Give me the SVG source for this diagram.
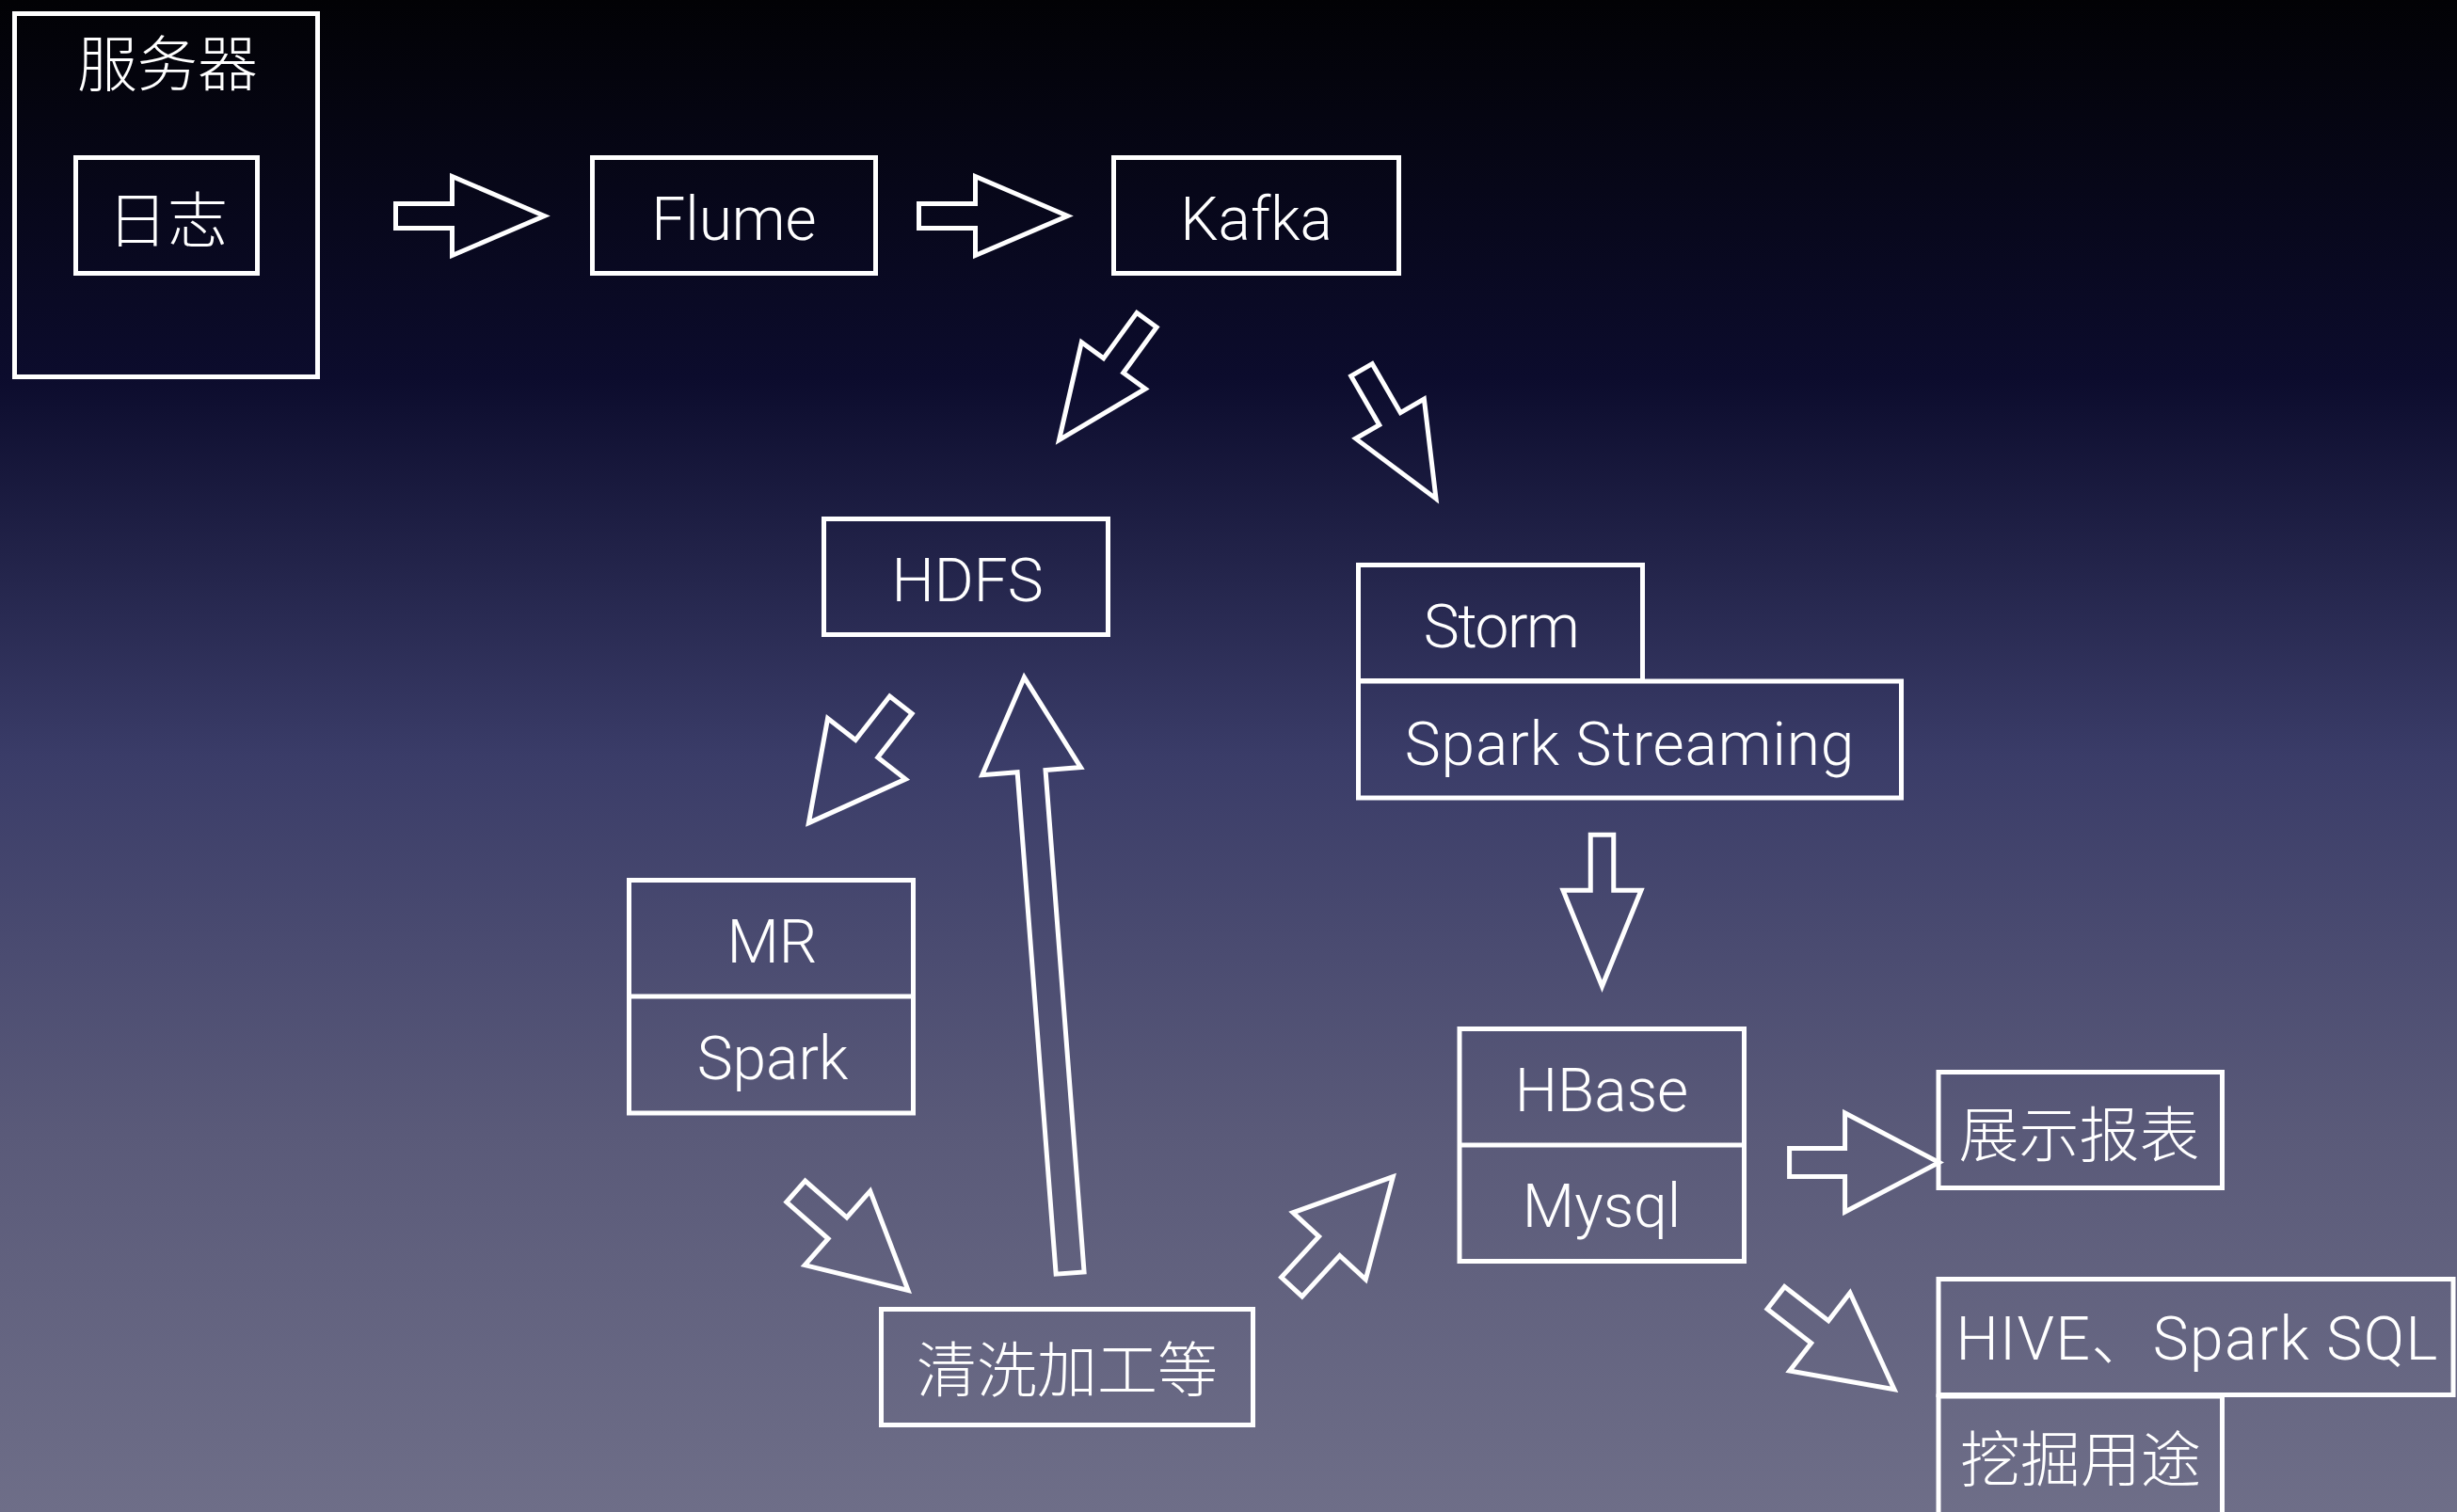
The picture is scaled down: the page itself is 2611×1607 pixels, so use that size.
<svg xmlns="http://www.w3.org/2000/svg" xmlns:xlink="http://www.w3.org/1999/xlink" width="2611" height="1607" viewBox="0 0 2611 1607">
<defs>
<linearGradient id="bg" x1="0" y1="0" x2="0" y2="1">
<stop offset="0" stop-color="#020205"/>
<stop offset="0.25" stop-color="#0c0c2d"/>
<stop offset="0.5" stop-color="#3a3c68"/>
<stop offset="0.75" stop-color="#5a5a79"/>
<stop offset="1" stop-color="#6e6e88"/>
</linearGradient>
<path id="arrA" d="M0,0 L-98,-42 V-13 H-158 V13 H-98 V42 Z"/>
<path id="arrB" d="M0,0 L-100,-52.5 V-15 H-159 V15 H-100 V52.5 Z"/>
<path id="arrC" d="M0,0 L-102,-41.5 V-12.25 H-161 V12.25 H-102 V41.5 Z"/>
<path id="arrD" d="M0,0 L-100,-52.5 V-15 H-635 V15 H-100 V52.5 Z"/>
</defs>
<style>
.box{fill:none;stroke:#fff;stroke-width:5}
.arr{fill:none;stroke:#fff;stroke-width:5;stroke-linejoin:miter;stroke-miterlimit:10}
.lat{font-family:Roboto,"Liberation Sans","Noto Sans CJK SC",sans-serif;font-weight:300;font-size:64px;fill:#fff;text-anchor:middle}
.cjk{font-family:"Noto Sans CJK SC",sans-serif;font-weight:300;font-size:64px;fill:#fff;text-anchor:middle}
</style>
<rect x="0" y="0" width="2611" height="1607" fill="url(#bg)"/>

<g id="server">
<rect class="box" x="15.5" y="14.5" width="322" height="386"/>
<text class="cjk" x="178" y="91">服务器</text>
</g>
<g id="log">
<rect class="box" x="80.5" y="167.5" width="193" height="123"/>
<text class="cjk" x="178" y="257">日志</text>
</g>
<g id="flume">
<rect class="box" x="629.5" y="167.5" width="301" height="123"/>
<text class="lat" x="780" y="255">Flume</text>
</g>
<g id="kafka">
<rect class="box" x="1183.5" y="167.5" width="303" height="123"/>
<text class="lat" x="1335" y="255">Kafka</text>
</g>
<g id="hdfs">
<rect class="box" x="875.5" y="551.5" width="302" height="123"/>
<text class="lat" x="1028" y="639">HDFS</text>
</g>
<g id="storm">
<rect class="box" x="1443.5" y="600.5" width="302" height="123"/>
<text class="lat" x="1595" y="688" letter-spacing="-1.5">Storm</text>
</g>
<g id="sparkstreaming">
<rect class="box" x="1443.5" y="724" width="577" height="124"/>
<text class="lat" x="1732" y="813" letter-spacing="0.9">Spark Streaming</text>
</g>
<g id="mrspark">
<rect class="box" x="668.5" y="935.5" width="302" height="247.5"/>
<line class="box" x1="668.5" y1="1059" x2="970.5" y2="1059"/>
<text class="lat" x="820.5" y="1022.5">MR</text>
<text class="lat" x="821" y="1146.5">Spark</text>
</g>
<g id="clean">
<rect class="box" x="936.5" y="1391.5" width="395" height="123"/>
<text class="cjk" x="1134" y="1479">清洗加工等</text>
</g>
<g id="hbasemysql">
<rect class="box" x="1551" y="1093.5" width="302.5" height="247"/>
<line class="box" x1="1551" y1="1217" x2="1853.5" y2="1217"/>
<text class="lat" x="1702" y="1180.5">HBase</text>
<text class="lat" x="1702" y="1304">Mysql</text>
</g>
<g id="report">
<rect class="box" x="2060" y="1139.5" width="301.5" height="123"/>
<text class="cjk" x="2209.5" y="1228.5">展示报表</text>
</g>
<g id="hive">
<rect class="box" x="2060" y="1359.5" width="547" height="123"/>
<text class="lat" x="2335" y="1444.7" letter-spacing="1.4">HIVE、Spark SQL</text>
</g>
<g id="mining">
<rect class="box" x="2060" y="1484" width="301.5" height="200"/>
<text class="cjk" x="2211" y="1574">挖掘用途</text>
</g>

<g id="connectors">
<use class="arr" xlink:href="#arrA" transform="translate(578.5,229.5)"/>
<use class="arr" xlink:href="#arrA" transform="translate(1134.5,229.5)"/>
<use class="arr" xlink:href="#arrA" transform="translate(1125.5,467.7) rotate(126.1)"/>
<use class="arr" xlink:href="#arrA" transform="translate(1526,530) rotate(60)"/>
<use class="arr" xlink:href="#arrB" transform="translate(859.4,874.6) rotate(128)"/>
<use class="arr" xlink:href="#arrD" transform="translate(1088.4,719.9) rotate(-94.4)"/>
<use class="arr" xlink:href="#arrB" transform="translate(965,1371.4) rotate(41.4)"/>
<use class="arr" xlink:href="#arrB" transform="translate(1480.3,1250.7) rotate(-47.4)"/>
<use class="arr" xlink:href="#arrC" transform="translate(1702.5,1048.3) rotate(90)"/>
<use class="arr" xlink:href="#arrB" transform="translate(2060.6,1235.5)"/>
<use class="arr" xlink:href="#arrB" transform="translate(2013,1476.7) rotate(37.7)"/>
</g>
</svg>
